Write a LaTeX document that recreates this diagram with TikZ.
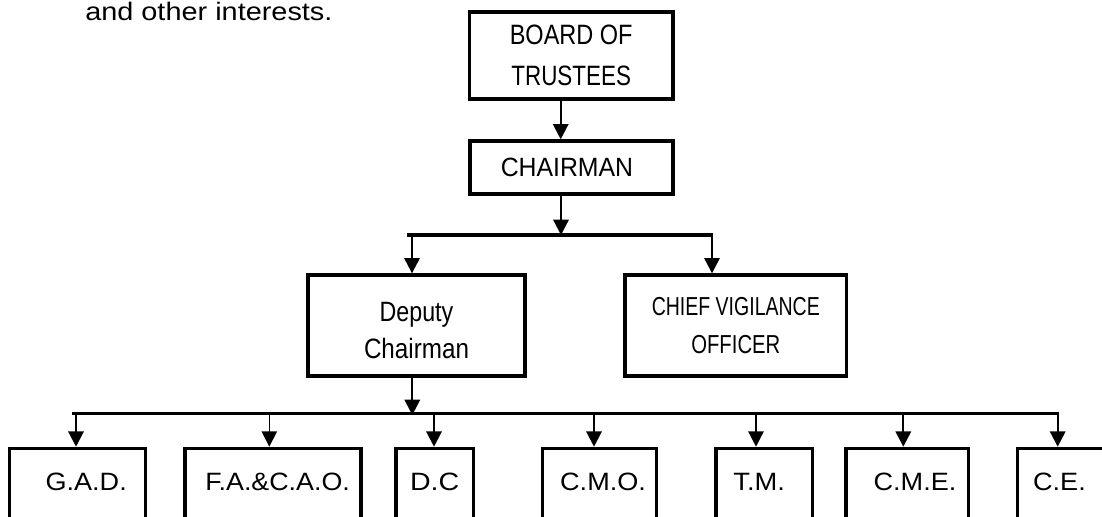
\documentclass[tikz,border=0pt]{standalone}
\usepackage{fontspec}
\setmainfont{Liberation Sans}
\usepackage{graphicx}
\usetikzlibrary{arrows.meta,calc}
\newcommand{\hs}[2]{\scalebox{#1}[1]{#2}}
\begin{document}
\begin{tikzpicture}[x=0.75pt,y=-0.75pt,
  box/.style={draw, line width=2.5pt, inner sep=0pt},
  lowbox/.style={box, anchor=north, minimum height=75pt,
    text height=13.2pt, text depth=24.3pt, font=\fontsize{18.8}{22}\selectfont},
  conn/.style={line width=1.7pt, -{Triangle[width=11.5pt,length=11.5pt]}},
  thinconn/.style={conn, line width=1.1pt},
  bus/.style={line width=2.4pt}]
\useasboundingbox (0,0) rectangle (1102,517);
\clip (0,0) rectangle (1102,517);

\node[anchor=base west, inner sep=0pt, font=\fontsize{19}{22}\selectfont] (intro) at (85,20.7) {\hs{1.14}{and other interests.}};

\node[box, align=center, minimum width=152.8pt, minimum height=65.25pt, font=\fontsize{21}{30.5}\selectfont] (board) at (571.2,55.5) {\hs{0.84}{BOARD OF}\\\hs{0.80}{TRUSTEES}};
\node[box, minimum width=152.25pt, minimum height=39.75pt, font=\fontsize{19.8}{22}\selectfont] (chair) at (571.5,167.5) {\hs{0.94}{CHAIRMAN}\kern6.8pt};
\node[box, align=center, minimum width=162.75pt, minimum height=75.75pt, font=\fontsize{21}{27.5}\selectfont] (dep) at (416.5,325.5) {\rule{0pt}{22pt}\hs{0.83}{Deputy}\\\hs{0.865}{Chairman}};
\node[box, align=center, minimum width=166.3pt, minimum height=75.75pt, font=\fontsize{19.5}{28}\selectfont] (cvo) at (735.8,325.5) {\hs{0.75}{CHIEF VIGILANCE}\\\hs{0.78}{OFFICER}};

\node[lowbox, minimum width=102.3pt] (gad) at (77.5,446.7) {\kern13pt\hs{1.08}{G.A.D.}};
\node[lowbox, minimum width=132pt] (fa) at (273,446.7) {\kern6.8pt\hs{1.07}{F.A.\&C.A.O.}};
\node[lowbox, minimum width=58pt] (dc) at (434.7,446.7) {\hs{1.14}{D.C}};
\node[lowbox, minimum width=85.5pt] (cmo) at (599.7,446.7) {\kern5pt\hs{1.08}{C.M.O.}};
\node[lowbox, minimum width=72.5pt] (tm) at (764.3,446.7) {\hs{1.09}{T.M.}\kern7.6pt};
\node[lowbox, minimum width=91.7pt] (cme) at (907.2,446.7) {\kern11.7pt\hs{1.08}{C.M.E.}};
\node[lowbox, minimum width=71.25pt] (ce) at (1065.2,446.7) {\hs{1.08}{C.E.}\kern8.6pt};

% board -> chairman
\coordinate (c1) at (560.7,0);
\draw[conn] (board.south -| c1) -- (chair.north -| c1);

% chairman -> first bus
\coordinate (b1m) at (561,235);
\coordinate (b1s) at (407,235);
\coordinate (b1l) at (412,235);
\coordinate (b1r) at (712,235);
\coordinate (b1e) at (713,235);
\draw[conn] (chair.south -| b1m) -- (b1m);
\draw[bus] (b1s) -- (b1e);
\draw[conn] (b1l) -- (dep.north -| b1l);
\draw[conn] (b1r) -- (cvo.north -| b1r);

% deputy -> second bus
\coordinate (b2d) at (412.3,415);
\coordinate (b2s) at (71.7,413.3);
\coordinate (b2e) at (1059,413.3);
\draw[conn] (dep.south -| b2d) -- (b2d);
\draw[bus] (b2s) -- (b2e);

\coordinate (pgad) at (76,413.3);
\coordinate (pfa) at (269.3,413.3);
\coordinate (pdc) at (434,413.3);
\coordinate (pcmo) at (594,413.3);
\coordinate (ptm) at (756,413.3);
\coordinate (pcme) at (903.3,413.3);
\coordinate (pce) at (1057.7,413.3);
\draw[conn] (pgad) -- (gad.north -| pgad);
\draw[thinconn] (pfa) -- (fa.north -| pfa);
\draw[conn] (pdc) -- (dc.north -| pdc);
\draw[conn] (pcmo) -- (cmo.north -| pcmo);
\draw[thinconn] (ptm) -- (tm.north -| ptm);
\draw[conn] (pcme) -- (cme.north -| pcme);
\draw[conn] (pce) -- (ce.north -| pce);
\end{tikzpicture}
\end{document}
